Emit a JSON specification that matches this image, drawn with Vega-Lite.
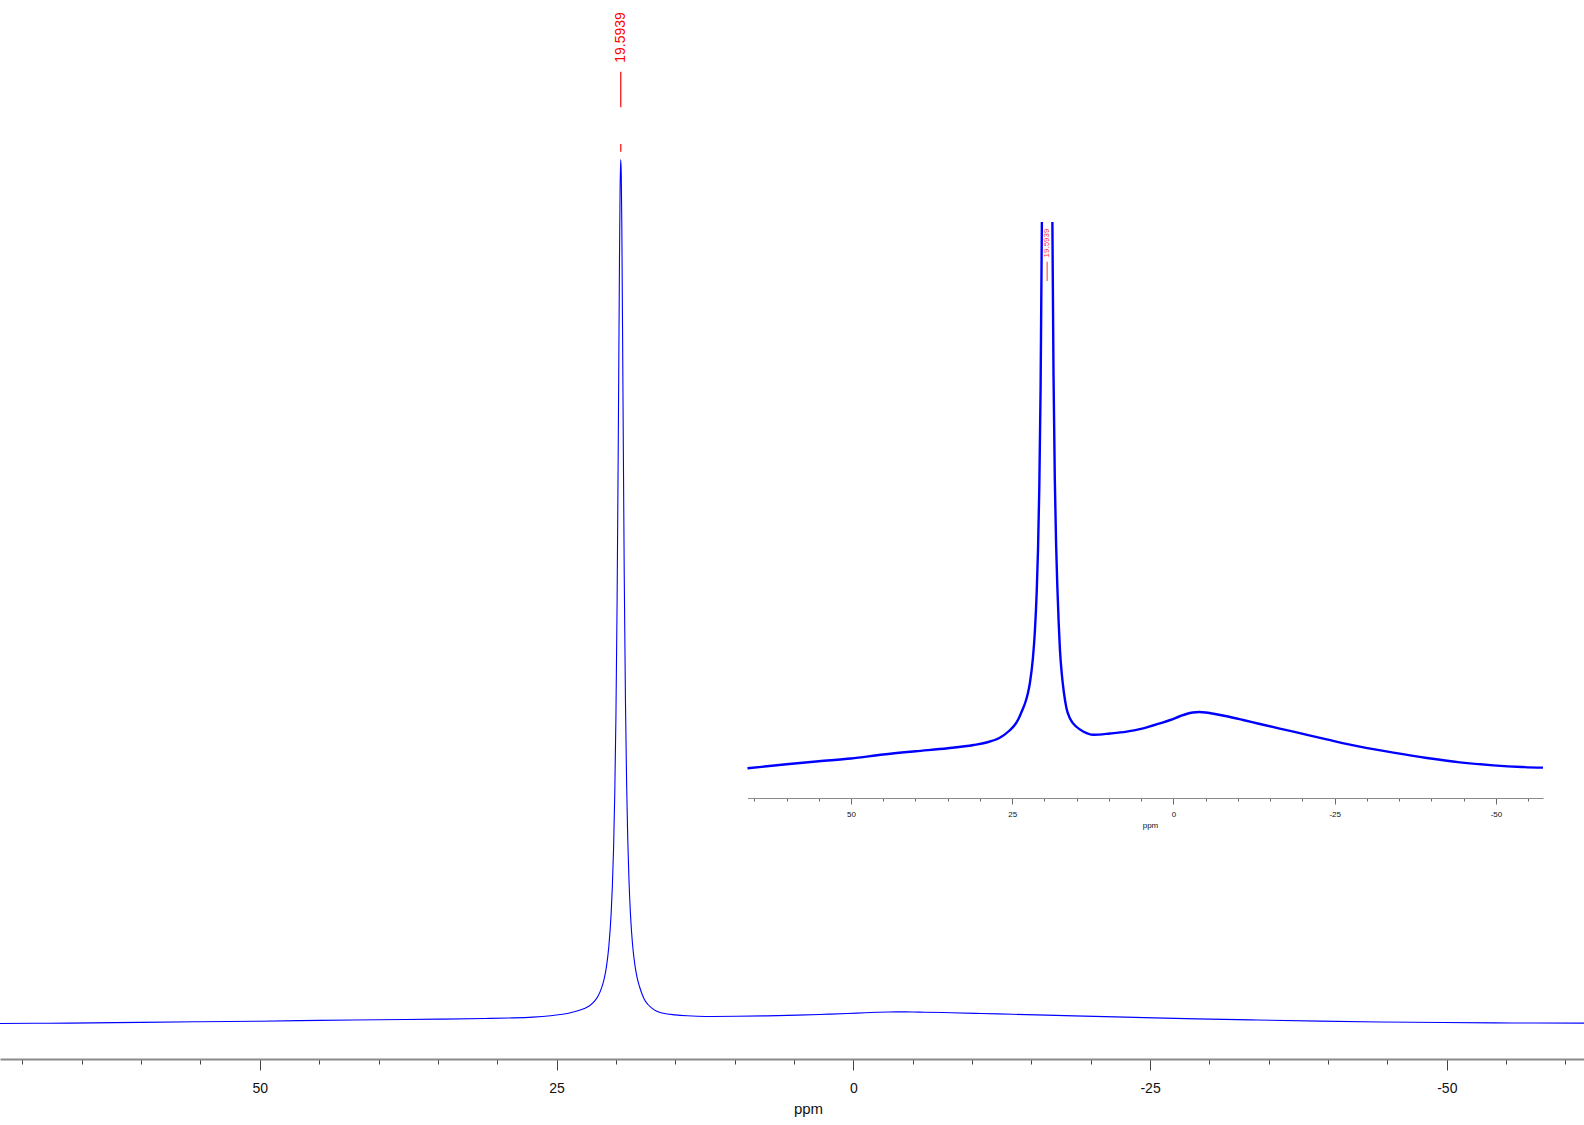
{
  "$schema": "https://vega.github.io/schema/vega-lite/v6.json",
  "width": 1584,
  "height": 1059,
  "autosize": {"type": "none"},
  "padding": {"left": 0, "top": 0, "right": 0, "bottom": 66},
  "background": "white",
  "config": {
    "view": {"stroke": null},
    "font": "Liberation Sans",
    "axis": {"grid": false}
  },
  "datasets": {
    "spectrum": [
      {"ppm": 72, "I": 0.0}, {"ppm": 69, "I": 0.2}, {"ppm": 66.05, "I": 0.34}, {"ppm": 60, "I": 1.15},
      {"ppm": 55, "I": 1.75}, {"ppm": 50, "I": 2.3}, {"ppm": 45, "I": 3.1}, {"ppm": 40, "I": 3.75},
      {"ppm": 35, "I": 4.35}, {"ppm": 31, "I": 5.0}, {"ppm": 29, "I": 5.5}, {"ppm": 27, "I": 6.4},
      {"ppm": 25.5, "I": 7.8}, {"ppm": 24.5, "I": 9.2}, {"ppm": 24.0, "I": 10.3}, {"ppm": 23.5, "I": 11.8},
      {"ppm": 23.0, "I": 13.4}, {"ppm": 22.6, "I": 15.2}, {"ppm": 22.25, "I": 17.5}, {"ppm": 21.8, "I": 22.3},
      {"ppm": 21.5, "I": 27.5}, {"ppm": 21.2, "I": 35.8}, {"ppm": 21.0, "I": 44.2}, {"ppm": 20.8, "I": 56.7},
      {"ppm": 20.6, "I": 76.6}, {"ppm": 20.404, "I": 109.6}, {"ppm": 20.3, "I": 137}, {"ppm": 20.2, "I": 174},
      {"ppm": 20.1, "I": 227.6}, {"ppm": 20.0, "I": 306}, {"ppm": 19.9, "I": 422}, {"ppm": 19.8, "I": 582.8},
      {"ppm": 19.7, "I": 763.3}, {"ppm": 19.65, "I": 832}, {"ppm": 19.6, "I": 864}, {"ppm": 19.55, "I": 850},
      {"ppm": 19.5, "I": 794}, {"ppm": 19.4, "I": 619.4}, {"ppm": 19.3, "I": 450.6}, {"ppm": 19.2, "I": 326},
      {"ppm": 19.1, "I": 240.9}, {"ppm": 19.0, "I": 183.3}, {"ppm": 18.9, "I": 143.4}, {"ppm": 18.776, "I": 109.6},
      {"ppm": 18.6, "I": 79.2}, {"ppm": 18.4, "I": 58.3}, {"ppm": 18.2, "I": 45.2}, {"ppm": 18.0, "I": 36.5},
      {"ppm": 17.8, "I": 29.5}, {"ppm": 17.6, "I": 24.0}, {"ppm": 17.3, "I": 19.0}, {"ppm": 17.0, "I": 15.6},
      {"ppm": 16.6, "I": 12.4}, {"ppm": 16.0, "I": 10.2}, {"ppm": 15.0, "I": 8.6}, {"ppm": 14.0, "I": 7.7},
      {"ppm": 12.43, "I": 7.05}, {"ppm": 9.84, "I": 7.3}, {"ppm": 7.26, "I": 7.67}, {"ppm": 4.68, "I": 8.33},
      {"ppm": 2.09, "I": 9.33}, {"ppm": 0.5, "I": 10.0}, {"ppm": -1.0, "I": 10.75}, {"ppm": -2.0, "I": 11.2},
      {"ppm": -3.0, "I": 11.5}, {"ppm": -4.0, "I": 11.6}, {"ppm": -5.0, "I": 11.5}, {"ppm": -6.0, "I": 11.3},
      {"ppm": -8.25, "I": 10.75}, {"ppm": -10.8, "I": 10.0}, {"ppm": -13.4, "I": 9.2}, {"ppm": -18.6, "I": 7.67},
      {"ppm": -23.75, "I": 6.13}, {"ppm": -28.9, "I": 4.67}, {"ppm": -34.1, "I": 3.47}, {"ppm": -39.3, "I": 2.4},
      {"ppm": -44.4, "I": 1.53}, {"ppm": -49.6, "I": 0.93}, {"ppm": -54, "I": 0.6}, {"ppm": -57.3, "I": 0.47},
      {"ppm": -61.6, "I": 0.4}
    ],
    "mainLabel": [{"ppm": 19.59, "text": "19.5939", "ty": 986, "a": 951.8, "b": 916.2, "c": 879.5, "d": 871.8}],
    "insetLabel": [{"ppm": 19.59, "text": "19.5939", "ty": 105.4, "a": 101.66, "b": 97.8}]
  },
  "layer": [
    {
      "layer": [
        {
          "data": {"name": "spectrum"},
          "mark": {"type": "line", "color": "#0000ff", "strokeWidth": 1.1, "interpolate": "monotone"},
          "encoding": {
            "x": {
              "field": "ppm", "type": "quantitative", "sort": null,
              "scale": {"domain": [71.89, -61.56], "nice": false, "zero": false},
              "axis": {
                "title": "ppm", "titleX": 808, "values": [70, 65, 60, 55, 50, 45, 40, 35, 30, 25, 20, 15, 10, 5, 0, -5, -10, -15, -20, -25, -30, -35, -40, -45, -50, -55, -60],
                "labelExpr": "datum.value % 25 === 0 ? '' + datum.value : ''",
                "tickSize": {"condition": {"test": "datum.value % 25 === 0", "value": 11}, "value": 5},
                "tickColor": "#444444", "tickWidth": 1,
                "domainColor": "#8a8a8a", "domainWidth": 2,
                "labelFontSize": 14, "labelColor": "#111111", "labelPadding": 11,
                "titleFontSize": 15, "titleFontWeight": "normal", "titleColor": "#111111", "titlePadding": 6
              }
            },
            "y": {"field": "I", "type": "quantitative", "scale": {"domain": [-35.5, 1023.5], "nice": false, "zero": false}, "axis": null}
          }
        },
        {
          "data": {"name": "mainLabel"},
          "mark": {"type": "rule", "color": "#ff0000", "strokeWidth": 1.2},
          "encoding": {
            "x": {"field": "ppm", "type": "quantitative"},
            "y": {"field": "a", "type": "quantitative", "axis": null},
            "y2": {"field": "b"}
          }
        },
        {
          "data": {"name": "mainLabel"},
          "mark": {"type": "rule", "color": "#ff0000", "strokeWidth": 1.2},
          "encoding": {
            "x": {"field": "ppm", "type": "quantitative"},
            "y": {"field": "c", "type": "quantitative", "axis": null},
            "y2": {"field": "d"}
          }
        },
        {
          "data": {"name": "mainLabel"},
          "mark": {"type": "text", "color": "#ff0000", "fontSize": 14, "angle": 270, "align": "center", "baseline": "middle"},
          "encoding": {
            "x": {"field": "ppm", "type": "quantitative"},
            "y": {"field": "ty", "type": "quantitative", "axis": null},
            "text": {"field": "text"}
          }
        }
      ]
    },
    {
      "layer": [
        {
          "data": {"name": "spectrum"},
          "transform": [{"filter": "datum.ppm >= 19.59 && datum.ppm <= 66.05 && datum.I <= 110"}],
          "mark": {"type": "line", "color": "#0000ff", "strokeWidth": 2.4, "interpolate": "monotone"},
          "encoding": {
            "x": {
              "field": "ppm", "type": "quantitative", "sort": null,
              "scale": {"domain": [66.05, -57.3], "range": [747.5, 1543], "nice": false, "zero": false},
              "axis": {
                "orient": "bottom", "offset": -261, "title": "ppm", "titleX": 1150,
                "values": [65, 60, 55, 50, 45, 40, 35, 30, 25, 20, 15, 10, 5, 0, -5, -10, -15, -20, -25, -30, -35, -40, -45, -50, -55],
                "labelExpr": "datum.value % 25 === 0 ? '' + datum.value : ''",
                "tickSize": {"condition": {"test": "datum.value % 25 === 0", "value": 6}, "value": 3},
                "tickColor": "#444444", "tickWidth": 0.8,
                "domainColor": "#8a8a8a", "domainWidth": 1,
                "labelFontSize": 8, "labelColor": "#111111", "labelPadding": 6,
                "titleFontSize": 8, "titleFontWeight": "normal", "titleColor": "#111111", "titlePadding": 3
              }
            },
            "y": {"field": "I", "type": "quantitative", "scale": {"domain": [-5.6, 109.8], "range": [798, 221], "nice": false, "zero": false}, "axis": null}
          }
        },
        {
          "data": {"name": "spectrum"},
          "transform": [{"filter": "datum.ppm < 19.59 && datum.ppm >= -57.3 && datum.I <= 110"}],
          "mark": {"type": "line", "color": "#0000ff", "strokeWidth": 2.4, "interpolate": "monotone"},
          "encoding": {
            "x": {"field": "ppm", "type": "quantitative", "sort": null},
            "y": {"field": "I", "type": "quantitative", "axis": null}
          }
        },
        {
          "data": {"name": "insetLabel"},
          "mark": {"type": "rule", "color": "#ff3030", "strokeWidth": 1},
          "encoding": {
            "x": {"field": "ppm", "type": "quantitative"},
            "y": {"field": "a", "type": "quantitative", "axis": null},
            "y2": {"field": "b"}
          }
        },
        {
          "data": {"name": "insetLabel"},
          "mark": {"type": "text", "color": "#ff3030", "fontSize": 8, "angle": 270, "align": "center", "baseline": "middle"},
          "encoding": {
            "x": {"field": "ppm", "type": "quantitative"},
            "y": {"field": "ty", "type": "quantitative", "axis": null},
            "text": {"field": "text"}
          }
        }
      ]
    }
  ],
  "resolve": {"scale": {"x": "independent", "y": "independent"}, "axis": {"x": "independent", "y": "independent"}}
}
